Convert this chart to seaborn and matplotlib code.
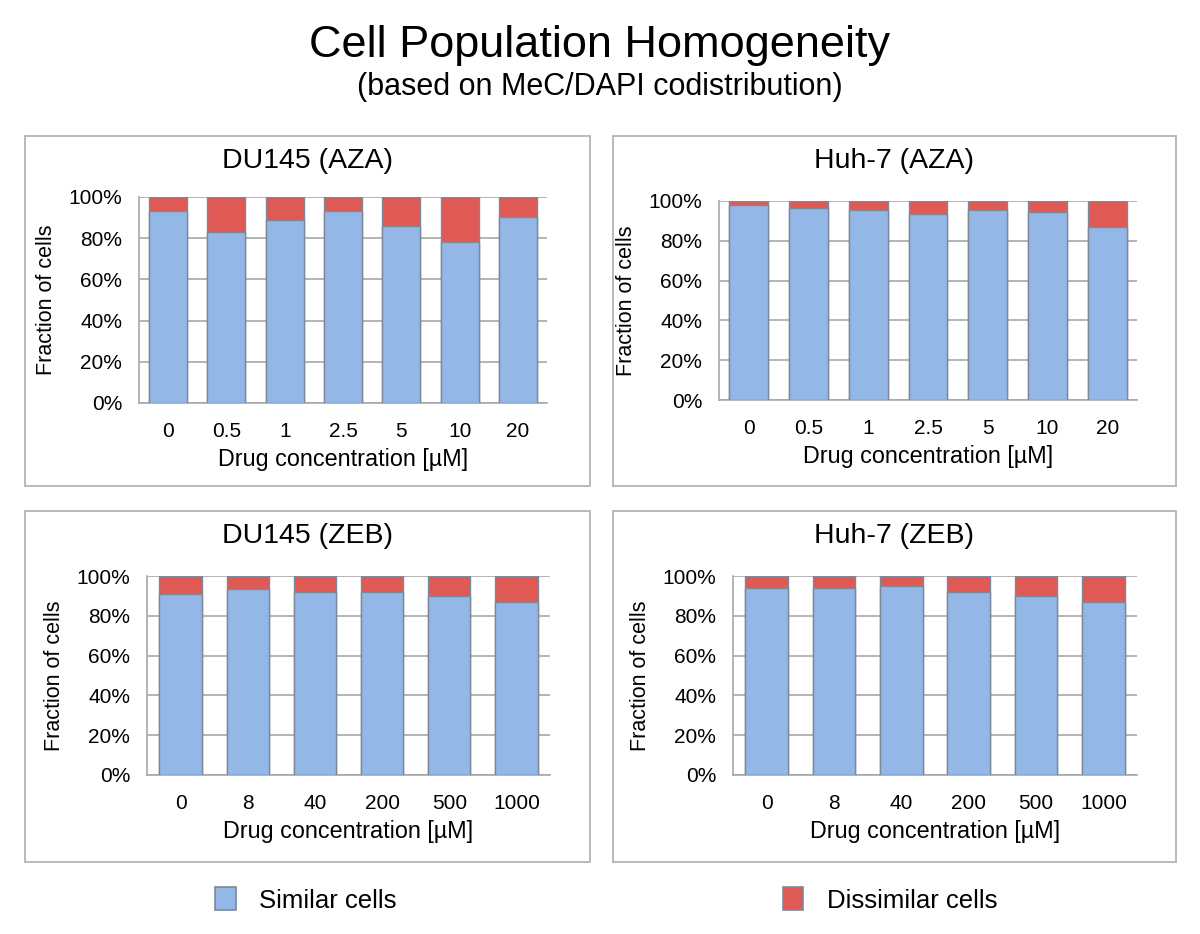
import matplotlib
matplotlib.use("Agg")
import matplotlib.pyplot as plt
from matplotlib.patches import Rectangle, Patch
import seaborn as sns
import pandas as pd

# ---- data (percent of cells) ----
aza_conc = ["0", "0.5", "1", "2.5", "5", "10", "20"]
zeb_conc = ["0", "8", "40", "200", "500", "1000"]

du145_aza_similar = [93, 83, 89, 93, 86, 78, 90.5]
du145_aza_dissimilar = [7, 17, 11, 7, 14, 22, 9.5]
huh7_aza_similar = [98, 96.5, 95.5, 93.5, 95.5, 94.5, 87]
huh7_aza_dissimilar = [2, 3.5, 4.5, 6.5, 4.5, 5.5, 13]
du145_zeb_similar = [91, 93.5, 92, 92, 90, 87]
du145_zeb_dissimilar = [9, 6.5, 8, 8, 10, 13]
huh7_zeb_similar = [94, 94, 95, 92, 90, 87]
huh7_zeb_dissimilar = [6, 6, 5, 8, 10, 13]

panel_titles = ["DU145 (AZA)", "Huh-7 (AZA)", "DU145 (ZEB)", "Huh-7 (ZEB)"]
yticks = [0, 20, 40, 60, 80, 100]
ytick_labels = ["0%", "20%", "40%", "60%", "80%", "100%"]
series_names = ["Similar cells", "Dissimilar cells"]

BLUE = "#93b7e6"
RED = "#e05a55"
EDGE = "#7d8899"
GRID = "#a8a8a8"

sns.set_theme(style="white")
plt.rcParams["font.family"] = ["Liberation Sans", "DejaVu Sans"]

W, H = 1200, 934
fig = plt.figure(figsize=(W / 100, H / 100), dpi=100)


def fx(px):
    return px / W


def fy(py):
    return 1 - py / H


panels = [
    (aza_conc, du145_aza_similar, du145_aza_dissimilar, (139, 197, 547, 403), (25, 136, 590, 486), 0.65),
    (aza_conc, huh7_aza_similar, huh7_aza_dissimilar, (719, 201, 1137, 400), (613, 136, 1176, 486), 0.65),
    (zeb_conc, du145_zeb_similar, du145_zeb_dissimilar, (147, 576, 550, 775), (25, 511, 590, 862), 0.63),
    (zeb_conc, huh7_zeb_similar, huh7_zeb_dissimilar, (733, 576, 1137, 775), (613, 511, 1176, 862), 0.63),
]

for i, (conc, sim, dis, ax_box, frame, bw) in enumerate(panels):
    # outer frame
    x0, y0, x1, y1 = frame
    fig.add_artist(Rectangle((fx(x0), fy(y1)), fx(x1) - fx(x0), fy(y0) - fy(y1),
                             transform=fig.transFigure, fill=False,
                             edgecolor="#b4b4b4", linewidth=1.3))
    fig.text(fx((x0 + x1) / 2), fy(y0 + 25), panel_titles[i], ha="center", va="center",
             fontsize=20.5, color="black")

    l, t, r, b = ax_box
    ax = fig.add_axes([fx(l), fy(b), fx(r) - fx(l), fy(t) - fy(b)])
    df = pd.DataFrame({"conc": conc, "similar": sim, "dissimilar": dis})
    df["total"] = df["similar"] + df["dissimilar"]
    sns.barplot(data=df, x="conc", y="total", order=conc, color=RED, saturation=1,
                width=bw, edgecolor=EDGE, linewidth=1.0, ax=ax, zorder=3)
    sns.barplot(data=df, x="conc", y="similar", order=conc, color=BLUE, saturation=1,
                width=bw, edgecolor=EDGE, linewidth=1.0, ax=ax, zorder=4)

    ax.set_ylim(0, 100)
    ax.set_xlim(-0.5, len(conc) - 0.5)
    ax.set_yticks(yticks)
    ax.set_yticklabels(ytick_labels)
    ax.yaxis.grid(True, color=GRID, linewidth=1.2, zorder=0)
    ax.set_axisbelow(True)
    for s in ["top", "right"]:
        ax.spines[s].set_visible(False)
    for s in ["left", "bottom"]:
        ax.spines[s].set_color(GRID)
        ax.spines[s].set_linewidth(1.2)
    ax.tick_params(axis="y", length=0, pad=12, labelsize=15, colors="black")
    ax.tick_params(axis="x", length=0, pad=14, labelsize=15, colors="black")
    ax.set_xlabel("Drug concentration [µM]", fontsize=16.8, labelpad=5, color="black")
    ax.set_ylabel("Fraction of cells", fontsize=15.5, labelpad=8, color="black")

# titles
fig.text(0.5, fy(45), "Cell Population Homogeneity", ha="center", va="center",
         fontsize=32.5, color="black")
fig.text(0.5, fy(87), "(based on MeC/DAPI codistribution)", ha="center", va="center",
         fontsize=22, color="black")

# legend
handles = [Patch(facecolor=BLUE, edgecolor=EDGE, linewidth=1.2),
           Patch(facecolor=RED, edgecolor=EDGE, linewidth=1.2)]
fig.legend(handles, series_names, loc="center", bbox_to_anchor=(fx(606), fy(900)),
           ncol=2, frameon=False, fontsize=18.5, handlelength=0.8, handleheight=1.0,
           handletextpad=0.9, columnspacing=15.05, labelcolor="black")

fig.savefig("out.png", dpi=100, facecolor="white")
